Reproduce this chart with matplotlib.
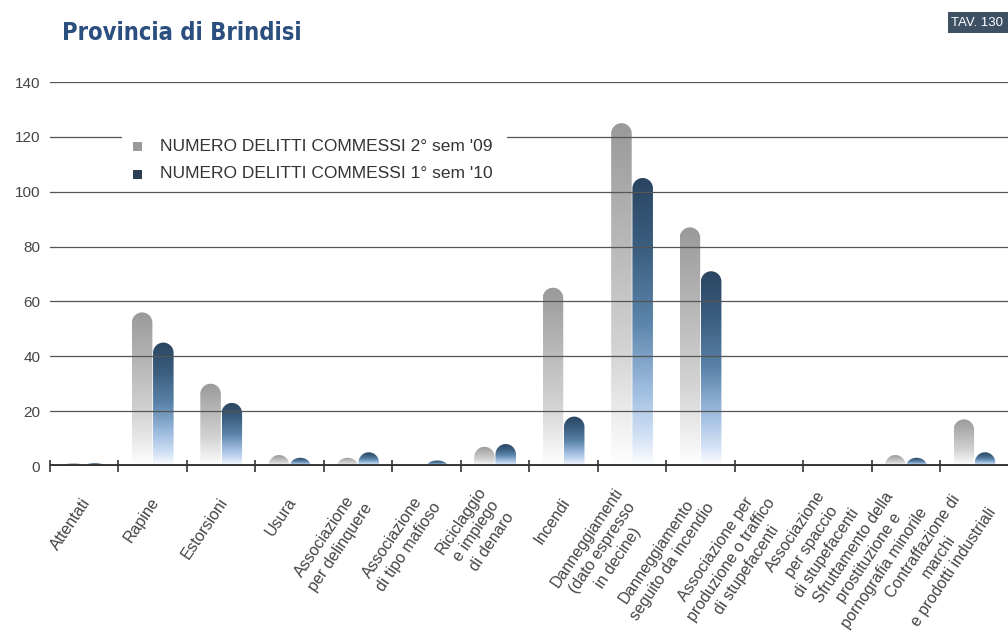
import numpy as np
import matplotlib
matplotlib.use("Agg")
import matplotlib.pyplot as plt
from matplotlib.path import Path
from matplotlib.patches import PathPatch, Rectangle
from matplotlib.colors import LinearSegmentedColormap

plt.rcParams['font.family'] = ['Liberation Sans', 'DejaVu Sans']

# Dati
categorie = [
    "Attentati", "Rapine", "Estorsioni", "Usura",
    "Associazione\nper delinquere", "Associazione\ndi tipo mafioso",
    "Riciclaggio\ne impiego\ndi denaro", "Incendi",
    "Danneggiamenti\n(dato espresso\nin decine)",
    "Danneggiamento\nseguito da incendio",
    "Associazione per\nproduzione o traffico\ndi stupefacenti",
    "Associazione\nper spaccio\ndi stupefacenti",
    "Sfruttamento della\nprostituzione e\npornografia minorile",
    "Contraffazione di\nmarchi\ne prodotti industriali",
]
sem2_09 = [1, 56, 30, 4, 3, 0, 7, 65, 125, 87, 0, 0, 4, 17]
sem1_10 = [1, 45, 23, 3, 5, 2, 8, 18, 105, 71, 0, 0, 3, 5]
serie_labels = ["NUMERO DELITTI COMMESSI 2° sem '09",
                "NUMERO DELITTI COMMESSI 1° sem '10"]
yticks = [0, 20, 40, 60, 80, 100, 120, 140]

cmap_grey = LinearSegmentedColormap.from_list(
    "grey", [(0, "#ffffff"), (0.12, "#f0f0f0"), (0.35, "#d2d2d2"),
             (0.7, "#b4b4b4"), (1, "#9a9a9a")])
cmap_blue = LinearSegmentedColormap.from_list(
    "blue", [(0, "#ffffff"), (0.1, "#d3e2f5"), (0.25, "#a3c0e2"),
             (0.5, "#5b84aa"), (0.75, "#3c5f80"), (1, "#2a4561")])

W, H = 1008, 641
fig = plt.figure(figsize=(W / 100, H / 100), dpi=100)
ax = fig.add_axes([50 / W, (H - 466) / H, (W - 50) / W, (466 - 82) / H])

bar_w = 0.3
ry = 3.8  # raggio della cupola in unita' y


def draw_bar(xc, h, cmap):
    if h <= 0:
        return
    r = min(ry, h)
    th = np.linspace(np.pi, 0, 40)
    xs = xc + bar_w / 2 * np.cos(th)
    ys = (h - r) + r * np.sin(th)
    verts = [(xc - bar_w / 2, 0)] + list(zip(xs, ys)) + [(xc + bar_w / 2, 0), (xc - bar_w / 2, 0)]
    codes = [Path.MOVETO] + [Path.LINETO] * (len(verts) - 2) + [Path.CLOSEPOLY]
    patch = PathPatch(Path(verts, codes), transform=ax.transData, facecolor="none", edgecolor="none")
    ax.add_patch(patch)
    im = ax.imshow(np.linspace(0, 1, 256).reshape(-1, 1), cmap=cmap, origin="lower",
                   extent=[xc - bar_w / 2, xc + bar_w / 2, 0, h], aspect="auto", zorder=3)
    im.set_clip_path(patch)


x = np.arange(len(categorie))
for i in x:
    draw_bar(i - 0.155, sem2_09[i], cmap_grey)
    draw_bar(i + 0.155, sem1_10[i], cmap_blue)

ax.set_xlim(-0.5, 13.49)
ax.set_ylim(0, 140)

# griglia
for yv in yticks[1:]:
    ax.axhline(yv, color="#555555", lw=0.9, zorder=4)
ax.axhline(0, color="#333333", lw=2.8, zorder=5)
ax.vlines(np.arange(len(categorie)) - 0.5, -2.3, 2.3, color="#333333", lw=1.2,
          zorder=5, clip_on=False)

for s in ax.spines.values():
    s.set_visible(False)
ax.set_yticks(yticks)
ax.set_yticklabels([str(v) for v in yticks], fontsize=11, color="#444444")
ax.tick_params(axis="y", length=0, pad=7)
ax.set_xticks([])

for i, lab in enumerate(categorie):
    ax.annotate(lab, xy=(i, 0), xycoords="data", xytext=(2, -24),
                textcoords="offset points", rotation=56, ha="right", va="center",
                rotation_mode="anchor", multialignment="center", linespacing=1.3,
                fontsize=11.5, color="#444444", annotation_clip=False)

# legenda
fig.patches.append(Rectangle((122 / W, (H - 185) / H), 385 / W, 60 / H,
                             transform=fig.transFigure, facecolor="white",
                             edgecolor="none", zorder=6))
leg_cols = ["#9a9a9a", "#2d3f52"]
for k, (lab, col) in enumerate(zip(serie_labels, leg_cols)):
    yc = 146 + 28 * k
    fig.patches.append(Rectangle((133 / W, (H - yc - 4.5) / H), 9 / W, 9 / H,
                                 transform=fig.transFigure, facecolor=col,
                                 edgecolor="none", zorder=7))
    fig.text(160 / W, (H - yc) / H, lab, fontsize=12.5, color="#333333",
             va="center", ha="left", zorder=7)

# titolo
fig.text(62 / W, (H - 33) / H, "Provincia di Brindisi", fontsize=17,
         fontweight="bold", fontstretch="condensed", color="#2b4f7e",
         va="center", ha="left", family=["DejaVu Sans"])
fig.patches.append(Rectangle((948 / W, (H - 33) / H), 60 / W, 21 / H,
                             transform=fig.transFigure, facecolor="#3e5064",
                             edgecolor="none"))
fig.text(951 / W, (H - 23) / H, "TAV. 130", fontsize=9.5, color="white",
         va="center", ha="left")

fig.savefig("out.png", dpi=100)
